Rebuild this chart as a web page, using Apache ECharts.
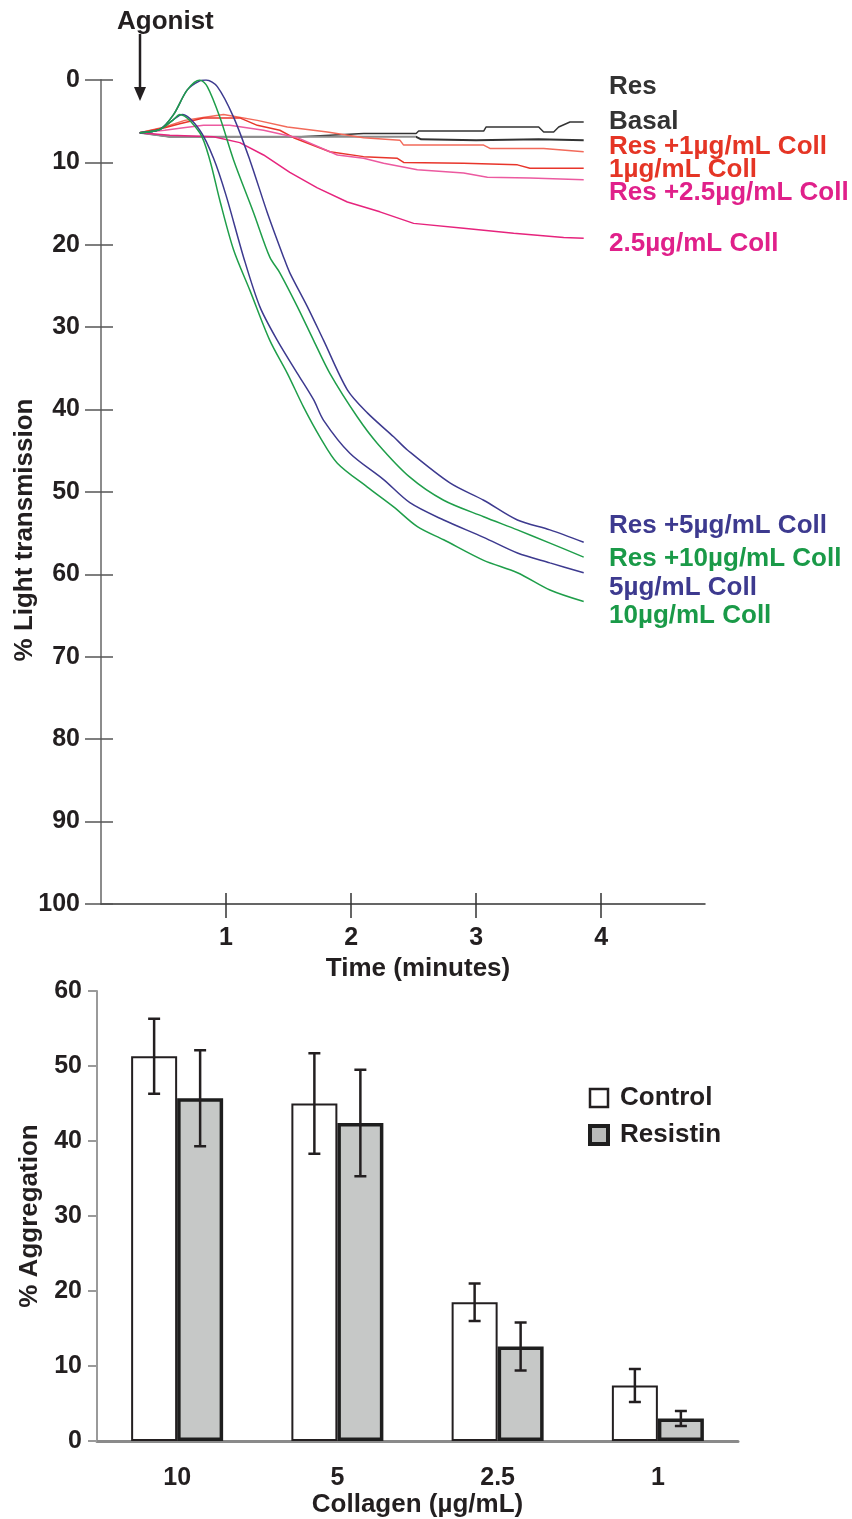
<!DOCTYPE html>
<html>
<head>
<meta charset="utf-8">
<script src="https://cdn.jsdelivr.net/npm/echarts@6/dist/echarts.min.js"></script>
<style>
html, body { margin: 0; padding: 0; background: #fff; }
#chart { width: 852px; height: 1519px; }
</style>
</head>
<body>
<div id="chart"></div>
<script>
// ---- panel A: aggregation traces, [time (min), % light transmission] ----
var timeTicks = [1, 2, 3, 4];

var resTrace = [[0.31, 6.4], [0.55, 6.9], [1.6, 6.9], [2.1, 6.5], [2.52, 6.5], [2.54, 6.2], [3.06, 6.2], [3.08, 5.7],
    [3.5, 5.7], [3.54, 6.3], [3.62, 6.3], [3.66, 5.7], [3.75, 5.1], [3.86, 5.1]];
var basalTrace = [[0.31, 6.4], [0.55, 6.9], [2.52, 6.9], [2.56, 7.2], [3.0, 7.3], [3.5, 7.2], [3.86, 7.3]];
var res1Trace = [[0.31, 6.4], [0.51, 5.7], [0.67, 4.9], [0.79, 4.6], [0.98, 4.2], [1.25, 4.9], [1.49, 5.7], [1.81, 6.3],
    [2.1, 7.0], [2.39, 7.3], [2.42, 7.9], [3.06, 7.9], [3.11, 8.3], [3.54, 8.3], [3.86, 8.7]];
var coll1Trace = [[0.31, 6.4], [0.51, 5.8], [0.63, 5.3], [0.82, 4.6], [1.11, 4.6], [1.25, 5.5], [1.43, 6.1], [1.54, 7.0],
    [1.83, 8.7], [2.1, 9.3], [2.37, 9.5], [2.42, 10.0], [2.9, 10.1], [3.33, 10.3], [3.43, 10.7], [3.86, 10.7]];
var res25Trace = [[0.31, 6.4], [0.51, 6.1], [0.66, 5.8], [0.82, 5.5], [1.03, 5.5], [1.3, 6.1], [1.57, 7.0], [1.89, 9.1],
    [2.1, 9.5], [2.26, 10.1], [2.53, 10.9], [2.9, 11.3], [3.09, 11.8], [3.43, 11.9], [3.86, 12.1]];
var coll25Trace = [[0.31, 6.4], [0.55, 6.7], [0.9, 6.9], [1.11, 7.6], [1.3, 9.1], [1.51, 11.2], [1.73, 13.1], [1.97, 14.8],
    [2.23, 16.0], [2.5, 17.4], [2.9, 18.0], [3.3, 18.6], [3.7, 19.1], [3.86, 19.2]];
var res5Trace = [[0.31, 6.4], [0.47, 6.0], [0.58, 4.2], [0.69, 1.2], [0.79, 0.1], [0.84, 0], [0.93, 0.8], [1.06, 4.5],
    [1.19, 9.7], [1.33, 16.1], [1.46, 21.5], [1.51, 23.4], [1.65, 27.5], [1.78, 31.6], [1.97, 37.6], [2.13, 40.4],
    [2.34, 43.3], [2.45, 44.9], [2.79, 48.9], [3.06, 51.0], [3.33, 53.4], [3.59, 54.6], [3.86, 56.1]];
var res10Trace = [[0.31, 6.4], [0.47, 6.0], [0.58, 4.2], [0.69, 1.2], [0.79, 0], [0.85, 0.8], [0.95, 4.5], [1.06, 9.7],
    [1.22, 16.1], [1.35, 21.5], [1.43, 23.4], [1.57, 27.5], [1.7, 31.6], [1.83, 35.6], [2.05, 40.9], [2.21, 44.1],
    [2.47, 48.2], [2.74, 51.0], [3.06, 53.0], [3.33, 54.6], [3.59, 56.2], [3.86, 57.9]];
var coll5Trace = [[0.31, 6.4], [0.47, 6.0], [0.58, 4.8], [0.65, 4.2], [0.79, 6.1], [0.9, 9.5], [1.0, 14.0], [1.14, 21.5],
    [1.27, 27.5], [1.41, 31.6], [1.57, 35.6], [1.7, 38.8], [1.78, 41.3], [1.99, 45.3], [2.26, 48.5], [2.47, 51.3],
    [2.74, 53.4], [3.06, 55.5], [3.33, 57.4], [3.59, 58.6], [3.86, 59.8]];
var coll10Trace = [[0.31, 6.4], [0.47, 6.0], [0.58, 4.8], [0.63, 4.2], [0.79, 6.4], [0.87, 9.7], [0.95, 14.6], [1.06, 20.6],
    [1.19, 25.5], [1.35, 31.6], [1.49, 35.6], [1.62, 39.7], [1.75, 43.3], [1.89, 46.5], [2.13, 49.4], [2.34, 51.8],
    [2.53, 54.2], [2.74, 55.8], [3.06, 58.3], [3.33, 59.8], [3.59, 61.9], [3.86, 63.3]];

// ---- panel B: % aggregation, mean and SEM ----
var collagenLevels = ['10', '5', '2.5', '1'];
var controlMean = [51.3, 45.0, 18.5, 7.4];
var controlErr = [5.0, 6.7, 2.5, 2.2];
var resistinMean = [45.7, 42.4, 12.6, 3.0];
var resistinErr = [6.4, 7.1, 3.2, 1.0];

var FONT = "'Liberation Sans', Arial, sans-serif";
var INK = '#231f20';
var BLUE = '#3d3a8f', GREEN = '#1f9e4a', RED = '#e8352b', LIGHTRED = '#f26a5a', PINK = '#e6247d', LIGHTPINK = '#ec5aa0';
var BAR_W = 46;

var chart = echarts.init(document.getElementById('chart'), null, { renderer: 'canvas' });

function trace(name, data, color, smooth) {
    return {
        name: name, type: 'line', xAxisIndex: 0, yAxisIndex: 0, data: data,
        showSymbol: false, smooth: smooth ? 0.3 : false, silent: true,
        lineStyle: { color: color, width: 1.5 }
    };
}

function errSeries(name, mean, err, dir) {
    var d = mean.map(function (m, i) { return [i, m - err[i], m + err[i]]; });
    return {
        name: name + ' SEM', type: 'custom', xAxisIndex: 2, yAxisIndex: 2, data: d, z: 5, silent: true,
        encode: { x: 0, y: [1, 2] },
        renderItem: function (params, api) {
            var hi = api.coord([api.value(0), api.value(2)]);
            var lo = api.coord([api.value(0), api.value(1)]);
            var x = hi[0] + dir * BAR_W / 2;
            var st = { stroke: INK, lineWidth: 2.5 };
            return {
                type: 'group', children: [
                    { type: 'line', shape: { x1: x, y1: hi[1], x2: x, y2: lo[1] }, style: st },
                    { type: 'line', shape: { x1: x - 6, y1: hi[1], x2: x + 6, y2: hi[1] }, style: st },
                    { type: 'line', shape: { x1: x - 6, y1: lo[1], x2: x + 6, y2: lo[1] }, style: st }
                ]
            };
        }
    };
}

var basalColor = new echarts.graphic.LinearGradient(0, 0, 1, 0, [
    { offset: 0, color: '#8c8c8c' }, { offset: 0.62, color: '#8c8c8c' },
    { offset: 0.62, color: '#333' }, { offset: 1, color: '#333' }
]);

// trace labels on the right
var traceLabels = ['Res', 'Basal', 'Res +1µg/mL Coll', '1µg/mL Coll', 'Res +2.5µg/mL Coll', '2.5µg/mL Coll',
    'Res +5µg/mL Coll', 'Res +10µg/mL Coll', '5µg/mL Coll', '10µg/mL Coll'];
var labelColors = ['#333', '#333', '#e53525', '#e53525', '#e0208a', '#e0208a', BLUE, '#1a9a48', BLUE, '#1a9a48'];
var labelY = [88, 123, 148, 171, 194, 245, 527, 560, 589, 617];

var graphics = traceLabels.map(function (t, i) {
    return {
        type: 'text', left: 609, top: labelY[i] - 14, silent: true,
        style: { text: t, fill: labelColors[i], font: 'bold 26px ' + FONT }
    };
});
graphics.push(
    { type: 'text', left: 117, top: 9, style: { text: 'Agonist', fill: INK, font: 'bold 26px ' + FONT } },
    { type: 'line', shape: { x1: 140, y1: 34, x2: 140, y2: 92 }, style: { stroke: INK, lineWidth: 2.5 } },
    { type: 'polygon', shape: { points: [[134, 87], [146, 87], [140, 101]] }, style: { fill: INK } },
    {
        type: 'text', x: 25, y: 530, rotation: Math.PI / 2, silent: true,
        style: { text: '% Light transmission', fill: INK, font: 'bold 26px ' + FONT, align: 'center', verticalAlign: 'middle' }
    }
);

var tickFont = { fontFamily: FONT, fontWeight: 'bold', fontSize: 25, color: INK };
var nameFont = { fontFamily: FONT, fontWeight: 'bold', fontSize: 26, color: INK };

var option = {
    animation: false,
    backgroundColor: '#fff',
    grid: [
        { left: 101, top: 80, width: 604, height: 824 },
        { left: 97, top: 991, width: 641, height: 450 }
    ],
    legend: {
        data: [
            { name: 'Control', itemStyle: { color: '#fff', borderColor: INK, borderWidth: 2.5 } },
            { name: 'Resistin', itemStyle: { color: '#b9bbba', borderColor: '#1e1e1e', borderWidth: 4 } }
        ],
        orient: 'vertical', left: 583, top: 1080, icon: 'rect',
        itemWidth: 18, itemHeight: 18, itemGap: 11, selectedMode: false,
        textStyle: { fontFamily: FONT, fontWeight: 'bold', fontSize: 26, color: INK, padding: [0, 0, 0, 7] }
    },
    xAxis: [
        {
            gridIndex: 0, type: 'value', min: 0, max: 4.83, position: 'bottom',
            axisLine: { onZero: false, lineStyle: { color: '#333', width: 1.5 } },
            axisTick: { show: true, customValues: timeTicks, length: 14, lineStyle: { color: '#333', width: 1.5 } },
            axisLabel: Object.assign({ customValues: timeTicks, margin: 22 }, tickFont),
            splitLine: { show: false },
            name: 'Time (minutes)', nameLocation: 'middle', nameGap: 37,
            nameTextStyle: Object.assign({ padding: [0, 0, 0, 30] }, nameFont)
        },
        {
            gridIndex: 0, type: 'value', min: 0, max: 4.83, position: 'bottom',
            axisLine: { show: false, onZero: false },
            axisTick: { show: true, inside: true, customValues: timeTicks, length: 11, lineStyle: { color: '#333', width: 1.5 } },
            axisLabel: { show: false }, splitLine: { show: false }
        },
        {
            gridIndex: 1, type: 'category', data: collagenLevels,
            axisLine: { lineStyle: { color: '#8a8a8a', width: 3 } },
            axisTick: { length: 8, lineStyle: { color: '#8a8a8a', width: 2 } },
            axisLabel: Object.assign({ margin: 25 }, tickFont),
            name: 'Collagen (µg/mL)', nameLocation: 'middle', nameGap: 44, nameTextStyle: nameFont
        }
    ],
    yAxis: [
        {
            gridIndex: 0, type: 'value', inverse: true, min: 0, max: 100, interval: 10, position: 'left',
            axisLine: { show: true, lineStyle: { color: '#8c8c8c', width: 2 } },
            axisTick: { show: true, length: 16, lineStyle: { color: '#555', width: 1.5 } },
            axisLabel: Object.assign({ margin: 21 }, tickFont),
            splitLine: { show: false }
        },
        {
            gridIndex: 0, type: 'value', inverse: true, min: 0, max: 100, interval: 10, position: 'left',
            axisLine: { show: false },
            axisTick: { show: true, inside: true, length: 12, lineStyle: { color: '#555', width: 1.5 } },
            axisLabel: { show: false }, splitLine: { show: false }
        },
        {
            gridIndex: 1, type: 'value', min: 0, max: 60, interval: 10, position: 'left',
            axisLine: { show: true, lineStyle: { color: '#9a9a9a', width: 2 } },
            axisTick: { show: true, length: 9, lineStyle: { color: '#9a9a9a', width: 2 } },
            axisLabel: Object.assign({ margin: 15 }, tickFont),
            splitLine: { show: false },
            name: '% Aggregation', nameLocation: 'middle', nameGap: 52, nameTextStyle: nameFont
        }
    ],
    graphic: graphics,
    series: [
        trace('Res', resTrace, '#333', false),
        Object.assign(trace('Basal', basalTrace, basalColor, false), { lineStyle: { color: basalColor, width: 2 } }),
        trace('Res +1µg/mL Coll', res1Trace, LIGHTRED, false),
        trace('1µg/mL Coll', coll1Trace, RED, false),
        trace('Res +2.5µg/mL Coll', res25Trace, LIGHTPINK, false),
        trace('2.5µg/mL Coll', coll25Trace, PINK, false),
        trace('Res +5µg/mL Coll', res5Trace, BLUE, true),
        trace('Res +10µg/mL Coll', res10Trace, GREEN, true),
        trace('5µg/mL Coll', coll5Trace, BLUE, true),
        trace('10µg/mL Coll', coll10Trace, GREEN, true),
        {
            name: 'Control', type: 'bar', xAxisIndex: 2, yAxisIndex: 2, data: controlMean,
            barWidth: BAR_W, barGap: '0%',
            itemStyle: { color: '#fff', borderColor: INK, borderWidth: 2 }
        },
        {
            name: 'Resistin', type: 'bar', xAxisIndex: 2, yAxisIndex: 2, data: resistinMean,
            barWidth: BAR_W, barGap: '0%',
            itemStyle: { color: '#c6c8c7', borderColor: '#1e1e1e', borderWidth: 3.5 }
        },
        errSeries('Control', controlMean, controlErr, -1),
        errSeries('Resistin', resistinMean, resistinErr, 1)
    ]
};

chart.setOption(option);
</script>
</body>
</html>
